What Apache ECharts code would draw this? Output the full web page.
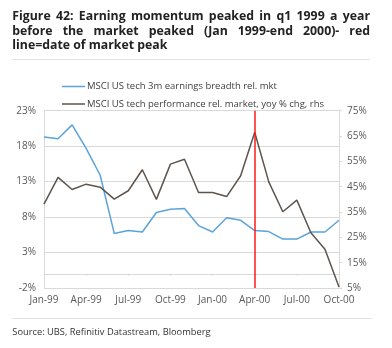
<!DOCTYPE html>
<html>
<head>
<meta charset="utf-8">
<script src="https://cdn.jsdelivr.net/npm/echarts@6/dist/echarts.min.js"></script>
<style>
html,body{margin:0;padding:0;background:#fff;}
#chart{width:392px;height:348px;}
</style>
</head>
<body>
<div id="chart"></div>
<script>
// ---- data ----
const months = ['Jan-99','Feb-99','Mar-99','Apr-99','May-99','Jun-99','Jul-99','Aug-99','Sep-99','Oct-99','Nov-99','Dec-99',
                'Jan-00','Feb-00','Mar-00','Apr-00','May-00','Jun-00','Jul-00','Aug-00','Sep-00','Oct-00'];
const breadthSeries = [19.3, 19.05, 21.0, 17.7, 13.9, 5.7, 6.1, 5.9, 8.65, 9.1, 9.2, 6.8, 5.9, 7.9, 7.55, 6.1, 5.95, 4.9, 4.9, 5.9, 5.9, 7.55];
const perfSeries = [38.1, 48.7, 43.9, 46.0, 44.8, 40.1, 43.4, 51.7, 40.0, 53.9, 55.8, 42.7, 42.7, 41.1, 49.3, 66.5, 46.9, 35.1, 39.7, 26.8, 20.3, 5.4];
const seriesNames = ['MSCI US tech 3m earnings breadth rel. mkt', 'MSCI US tech performance rel. market, yoy % chg, rhs'];
const peakMonth = 'Apr-00';
const leftAxisRange = [-2, 23, 5];
const rightAxisRange = [5, 75, 10];
const titleLines = ['Figure 42: Earning momentum peaked in q1 1999 a year', 'before the market peaked (Jan 1999-end 2000)- red', 'line=date of market peak'];
const sourceText = 'Source: UBS, Refinitiv Datastream, Bloomberg';

// ---- layout helpers ----
const FONT = '"Open Sans", "Noto Sans", sans-serif';
const cv = document.createElement('canvas').getContext('2d');
function fitSize(texts, targetWidth, weight) {
  cv.font = (weight || '') + ' 20px ' + FONT;
  const w = texts.reduce((s, t) => s + cv.measureText(t).width, 0);
  return Math.round(20 * targetWidth / w * 10) / 10;
}
const titleSize = fitSize([titleLines[2]], 154.5, 'bold');
const legendSize = fitSize(seriesNames, 427, '');
const sourceSize = fitSize([sourceText], 199.4, '');
const titleFont = 'bold ' + titleSize + 'px ' + FONT;
cv.font = titleFont;
const titleLeft = 12.3, titleRight = 370, titleY = [16.3, 31.0, 45.7];
const graphics = [];
titleLines.forEach((line, i) => {
  if (i < titleLines.length - 1) {
    const words = line.split(' ');
    const widths = words.map(w => cv.measureText(w).width);
    const total = widths.reduce((a, b) => a + b, 0);
    const gap = (titleRight - titleLeft - total) / (words.length - 1);
    let x = titleLeft;
    words.forEach((w, j) => {
      graphics.push({type: 'text', x: x, y: titleY[i], style: {text: w, font: titleFont, fill: '#222', verticalAlign: 'middle'}});
      x += widths[j] + gap;
    });
  } else {
    graphics.push({type: 'text', x: titleLeft, y: titleY[i], style: {text: line, font: titleFont, fill: '#222', verticalAlign: 'middle'}});
  }
});
graphics.push({type: 'line', shape: {x1: 12, y1: 59.5, x2: 370, y2: 59.5}, style: {stroke: '#e3e3e3', lineWidth: 1}});
graphics.push({type: 'line', shape: {x1: 12, y1: 318.5, x2: 372, y2: 318.5}, style: {stroke: '#e3e3e3', lineWidth: 1}});
graphics.push({type: 'text', x: 12.3, y: 332, style: {text: sourceText, font: sourceSize + 'px ' + FONT, fill: '#333', verticalAlign: 'middle'}});

const chart = echarts.init(document.getElementById('chart'), null, {renderer: 'canvas'});
const labelColor = '#595959';
const gridColor = '#d9d9d9';
chart.setOption({
  animation: false,
  backgroundColor: '#fff',
  graphic: graphics,
  legend: {
    orient: 'vertical',
    left: 57,
    top: 76.5,
    itemWidth: 23,
    itemHeight: 8,
    itemGap: 7.5,
    data: seriesNames,
    textStyle: {fontFamily: FONT, fontSize: legendSize, color: '#404040', padding: [0, 0, 0, -3]},
    icon: 'path://M0,4 L23,4 L23,5.5 L0,5.5 Z'
  },
  grid: {left: 44, right: 53, top: 110.7, bottom: 60, containLabel: false},
  xAxis: [
    {
      type: 'category', data: months, boundaryGap: false,
      axisLine: {show: true, onZero: true, onZeroAxisIndex: 0, lineStyle: {color: gridColor, width: 1}},
      axisTick: {show: true, interval: 2, length: 2, lineStyle: {color: gridColor}},
      axisLabel: {show: false},
      splitLine: {show: false}
    },
    {
      type: 'category', data: months, boundaryGap: false, position: 'bottom',
      axisLine: {show: false, onZero: false},
      axisTick: {show: false},
      axisLabel: {show: true, interval: 2, color: labelColor, fontFamily: FONT, fontSize: 10, margin: 7},
      splitLine: {show: false}
    }
  ],
  yAxis: [
    {
      type: 'value', min: leftAxisRange[0], max: leftAxisRange[1], interval: leftAxisRange[2],
      axisLine: {show: true, lineStyle: {color: gridColor}},
      axisTick: {show: false},
      axisLabel: {color: labelColor, fontFamily: FONT, fontSize: 10, margin: 8, formatter: v => v + '%'},
      splitLine: {show: true, lineStyle: {color: gridColor, width: 1}}
    },
    {
      type: 'value', min: rightAxisRange[0], max: rightAxisRange[1], interval: rightAxisRange[2], position: 'right',
      axisLine: {show: true, lineStyle: {color: gridColor}},
      axisTick: {show: true, length: 3, lineStyle: {color: gridColor}},
      axisLabel: {color: labelColor, fontFamily: FONT, fontSize: 10, margin: 8, formatter: v => v + '%'},
      splitLine: {show: false}
    }
  ],
  series: [
    {
      name: seriesNames[0], type: 'line', xAxisIndex: 0, yAxisIndex: 0,
      data: breadthSeries, symbol: 'none', smooth: false,
      lineStyle: {color: '#5aa3db', width: 1.5}, itemStyle: {color: '#5aa3db'}
    },
    {
      name: seriesNames[1], type: 'line', xAxisIndex: 0, yAxisIndex: 1,
      data: perfSeries, symbol: 'none', smooth: false,
      lineStyle: {color: '#5e544e', width: 1.5}, itemStyle: {color: '#5e544e'},
      markLine: {
        silent: true, symbol: 'none', label: {show: false},
        lineStyle: {color: '#ff1a1a', width: 1.5, type: 'solid'},
        data: [[{xAxis: peakMonth, yAxis: rightAxisRange[1]}, {xAxis: peakMonth, yAxis: rightAxisRange[0]}]]
      }
    }
  ]
});
</script>
</body>
</html>
